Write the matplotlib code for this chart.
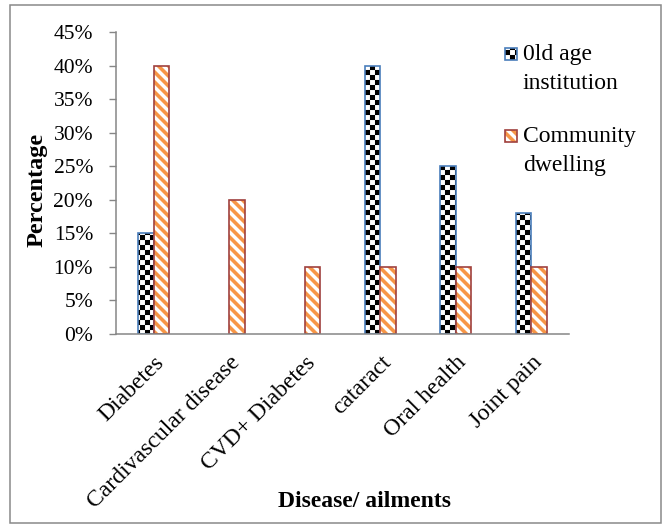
import warnings
import numpy as np
import matplotlib
matplotlib.use('Agg')
import matplotlib.pyplot as plt
import matplotlib.transforms as mtransforms
from matplotlib import hatch as mhatch
from matplotlib.path import Path
from matplotlib.patches import Rectangle
from matplotlib.legend_handler import HandlerPatch

warnings.filterwarnings('ignore')

# data (percent)
categories = ['Diabetes', 'Cardivascular disease', 'CVD+ Diabetes',
              'cataract', 'Oral health', 'Joint pain']
old_age = [15, 0, 0, 40, 25, 18]
community = [40, 20, 10, 10, 10, 10]
yticks = [0, 5, 10, 15, 20, 25, 30, 35, 40, 45]
legend_labels = ['0ld age\ninstitution', 'Community\ndwelling']


# custom hatches: 'c' = checkerboard, 'd' = thick diagonal stripes
class CheckerHatch(mhatch.HatchPatternBase):
    def __init__(self, hatch, density):
        self.n = hatch.count('c') * 10
        self.num_vertices = 5 * 2 * self.n * self.n

    def set_vertices_and_codes(self, vertices, codes):
        n = self.n
        s = 0.5 / n
        sq = np.array([[0, 0], [s, 0], [s, s], [0, s], [0, 0]])
        parts = []
        for i in range(n):
            for j in range(n):
                parts.append(sq + [2 * i * s, 2 * j * s])
                parts.append(sq + [2 * i * s + s, 2 * j * s + s])
        vertices[:] = np.concatenate(parts)
        codes[:] = np.tile([Path.MOVETO, Path.LINETO, Path.LINETO,
                            Path.LINETO, Path.CLOSEPOLY], 2 * n * n)


class StripeHatch(mhatch.HatchPatternBase):
    def __init__(self, hatch, density):
        self.n = hatch.count('d') * 10
        self.num_vertices = 5 * (2 * self.n + 2) if self.n else 0

    def set_vertices_and_codes(self, vertices, codes):
        n = self.n
        w = 0.5 / n
        parts = []
        for i in range(-1, 2 * n + 1):
            c = i / n
            parts.append([[0, c], [0, c + w], [1, c + w - 1], [1, c - 1], [0, c]])
        vertices[:] = np.concatenate(parts)
        codes[:] = np.tile([Path.MOVETO, Path.LINETO, Path.LINETO,
                            Path.LINETO, Path.CLOSEPOLY], 2 * n + 2)


mhatch._hatch_types.extend([CheckerHatch, StripeHatch])

plt.rcParams['font.family'] = ['Liberation Serif', 'DejaVu Serif']
plt.rcParams['hatch.linewidth'] = 0.05

fig = plt.figure(figsize=(6.65, 5.29), dpi=100)
ax = fig.add_axes([116 / 665, 1 - 334 / 529, 453 / 665, 302 / 529])

# outer chart border
fig.add_artist(Rectangle((10 / 665, 1 - 523 / 529), 651 / 665, 518 / 529,
                         transform=fig.transFigure, fill=False,
                         edgecolor='#898989', linewidth=1.1))

x = np.arange(len(categories))
w = 0.205
blue = '#4A7EBB'
red = '#A0413E'
orange = '#F79646'

# empty categories get no bar at all
old_h = np.where(np.array(old_age) > 0, old_age, np.nan)
com_h = np.where(np.array(community) > 0, community, np.nan)

h1 = ax.bar(x - w / 2, old_h, w, color='white', edgecolor='black',
            linewidth=0, hatch='c')
e1 = ax.bar(x - w / 2, old_h, w, fill=False, edgecolor=blue, linewidth=1.2)
h2 = ax.bar(x + w / 2, com_h, w, color='white', edgecolor=orange,
            linewidth=0, hatch='d')
e2 = ax.bar(x + w / 2, com_h, w, fill=False, edgecolor=red, linewidth=1.2)

ax.set_xlim(-0.5, len(categories) - 0.5)
ax.set_ylim(0, 45)
ax.set_yticks(yticks)
ax.set_yticklabels([f'{v}%' for v in yticks], fontsize=15.5)
ax.set_xticks(x)
ax.set_xticklabels(categories, fontsize=17, rotation=45, ha='right',
                   va='top', rotation_mode='anchor')
shift = mtransforms.ScaledTranslation(-0.04, 0, fig.dpi_scale_trans)
for lab in ax.get_xticklabels():
    lab.set_transform(lab.get_transform() + shift)
ax.tick_params(axis='x', length=0, pad=13)
ax.tick_params(axis='y', length=5, width=1, color='#868686', pad=11.5)
for side in ['top', 'right']:
    ax.spines[side].set_visible(False)
for side in ['left', 'bottom']:
    ax.spines[side].set_color('#868686')
    ax.spines[side].set_linewidth(1.1)

fig.text(37 / 665, 1 - 190 / 529, 'Percentage', rotation=90, ha='center',
         va='center', fontsize=17.5, fontweight='bold')
fig.text(365 / 665, 1 - 507 / 529, 'Disease/ ailments', ha='center',
         va='baseline', fontsize=17, fontweight='bold')


def legend_square(legend, orig_handle, xdescent, ydescent, width, height, fontsize):
    size = 0.5 * fontsize
    off = 0.72 * fontsize
    return Rectangle((-xdescent, -ydescent + off), size, size)


leg = ax.legend([(h1[0], e1[0]), (h2[0], e2[0])], legend_labels,
                handler_map={Rectangle: HandlerPatch(patch_func=legend_square)},
                loc='upper left', bbox_to_anchor=(505 / 665, 1 - 44 / 529),
                bbox_transform=fig.transFigure, frameon=False, fontsize=17,
                borderpad=0, borderaxespad=0, handlelength=0.53,
                handletextpad=0.22, labelspacing=1.35)
for t in leg.get_texts():
    t.set_linespacing(1.5)

fig.savefig('out.png', dpi=100)
